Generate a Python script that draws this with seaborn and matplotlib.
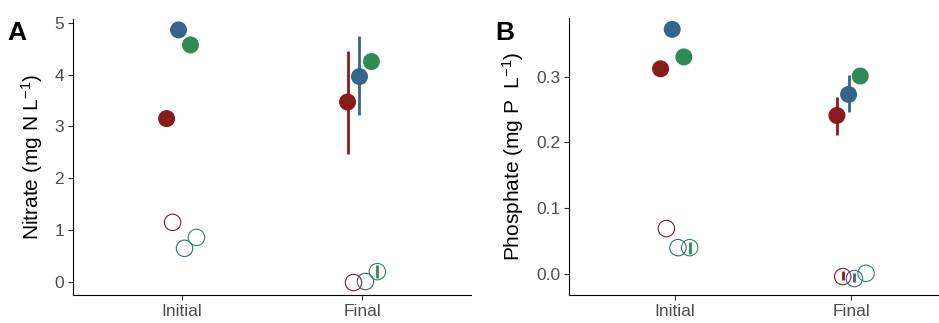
import itertools

import matplotlib
matplotlib.use("Agg")
import matplotlib.pyplot as plt
import numpy as np
import pandas as pd
import seaborn as sns

# ---- data -------------------------------------------------------------
times = ["Initial", "Final"]
forms = ["closed", "open"]
groups = ["g1", "g2", "g3"]
palette = {"g1": "#8B1A1A", "g2": "#36648B", "g3": "#2E8B57"}

# order: time -> form -> group
nitrate_mean = [3.15, 4.86, 4.57, 1.15, 0.65, 0.86,
                3.47, 3.96, 4.25, -0.01, 0.01, 0.20]
nitrate_lo = [3.15, 4.86, 4.57, 1.15, 0.65, 0.86,
              2.46, 3.21, 4.25, -0.01, 0.01, 0.08]
nitrate_hi = [3.15, 4.86, 4.57, 1.15, 0.65, 0.86,
              4.45, 4.74, 4.25, -0.01, 0.01, 0.33]

phosphate_mean = [0.312, 0.372, 0.330, 0.069, 0.040, 0.040,
                  0.241, 0.273, 0.301, -0.004, -0.007, 0.001]
phosphate_lo = [0.312, 0.372, 0.330, 0.069, 0.040, 0.031,
                0.211, 0.247, 0.301, -0.009, -0.012, 0.001]
phosphate_hi = [0.312, 0.372, 0.330, 0.069, 0.040, 0.049,
                0.269, 0.302, 0.301, 0.005, 0.002, 0.001]

nitrate_ticks = [0, 1, 2, 3, 4, 5]
phosphate_ticks = [0.0, 0.1, 0.2, 0.3]

# ---- style ------------------------------------------------------------
sns.set_style("ticks")
plt.rcParams["font.family"] = ["Liberation Sans", "DejaVu Sans"]
plt.rcParams["mathtext.fontset"] = "custom"
plt.rcParams["mathtext.rm"] = "Liberation Sans"
plt.rcParams["mathtext.it"] = "Liberation Sans:italic"
plt.rcParams["mathtext.bf"] = "Liberation Sans:bold"
plt.rcParams["axes.edgecolor"] = "black"
plt.rcParams["axes.linewidth"] = 0.8

DPI = 100
W, H = 939, 323
fig = plt.figure(figsize=(W / DPI, H / DPI), dpi=DPI)

dodge_step = 0.033


def long_table(mean, lo, hi):
    rows = list(itertools.product(times, forms, groups))
    df = pd.DataFrame(rows, columns=["time", "form", "group"])
    df["mean"], df["lo"], df["hi"] = mean, lo, hi
    slot = df["group"].map(groups.index) * 2 + df["form"].map(forms.index)
    df["x"] = df["time"].map(times.index) + (slot - 2.5) * dodge_step
    return df


def panel(rect, df, ylim, yticks, ylabel, label_x, tag, tag_x):
    ax = fig.add_axes(rect)
    bars = df[df["hi"] > df["lo"]]
    ax.vlines(bars["x"], bars["lo"], bars["hi"],
              colors=bars["group"].map(palette), linewidth=2.0, zorder=2)

    sns.scatterplot(data=df[df["form"] == "closed"], x="x", y="mean",
                    hue="group", palette=palette, s=150, linewidth=0,
                    legend=False, ax=ax, zorder=3)
    sns.scatterplot(data=df[df["form"] == "open"], x="x", y="mean",
                    hue="group", palette=palette, s=140, linewidth=0.8,
                    legend=False, ax=ax, zorder=3)
    hollow = ax.collections[-1]
    hollow.set_edgecolors(hollow.get_facecolors())
    hollow.set_facecolors("none")

    ax.set_xlim(-0.6, 1.6)
    ax.set_ylim(*ylim)
    ax.set_xticks(range(len(times)), times)
    ax.set_yticks(yticks)
    if isinstance(yticks[0], float):
        ax.set_yticklabels([f"{t:.1f}" for t in yticks])
    ax.tick_params(axis="both", labelsize=12.5, labelcolor="#4D4D4D",
                   color="#333333", length=3.5, width=0.8, pad=3)
    ax.set_xlabel("")
    ax.set_ylabel(ylabel, fontsize=15, color="black", va="center")
    ax.yaxis.set_label_coords(label_x, 0.5)
    sns.despine(ax=ax)
    fig.text(tag_x / W, 1 - 40 / H, tag, fontsize=19, fontweight="bold",
             color="black", ha="left", va="baseline")
    return ax


def rect_px(left, top, width, bottom):
    return [left / W, 1 - bottom / H, width / W, (bottom - top) / H]


nitrate = long_table(nitrate_mean, nitrate_lo, nitrate_hi)
phosphate = long_table(phosphate_mean, phosphate_lo, phosphate_hi)

panel(rect_px(73, 19, 398, 295), nitrate, (-0.25, 5.07), nitrate_ticks,
      r"Nitrate (mg N L$^{-1}$)", -0.104, "A", 7)
panel(rect_px(569.3, 17.5, 388, 295), phosphate, (-0.032, 0.390),
      phosphate_ticks, r"Phosphate (mg P  L$^{-1}$)", -0.146, "B", 495)

fig.savefig("out.png", dpi=DPI)
